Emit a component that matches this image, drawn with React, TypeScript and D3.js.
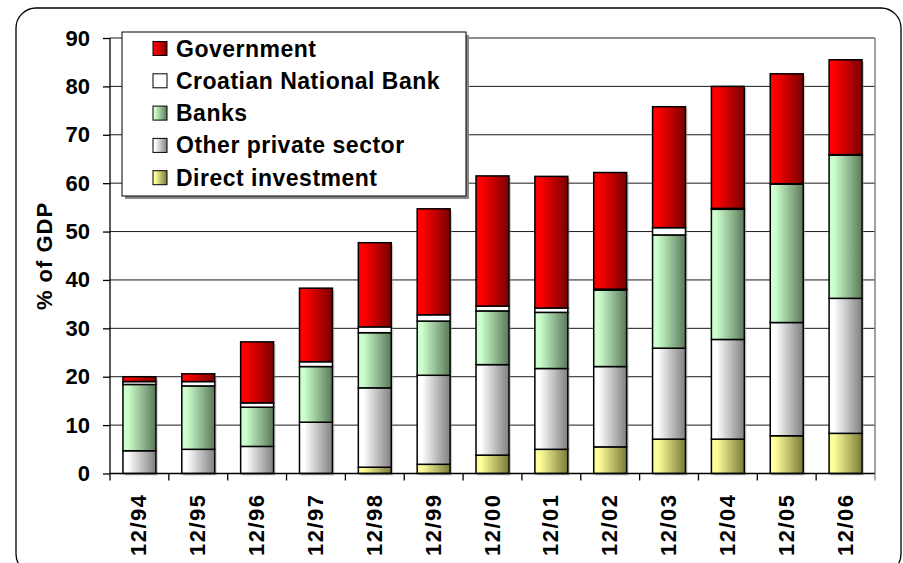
import { useEffect, useRef } from "react";
import * as d3 from "d3";

// % of GDP
const categories = ["12/94", "12/95", "12/96", "12/97", "12/98", "12/99", "12/00", "12/01", "12/02", "12/03", "12/04", "12/05", "12/06"];
const directInvestment = [0, 0, 0, 0, 1.3, 1.9, 3.8, 5.0, 5.5, 7.1, 7.1, 7.8, 8.3];
const otherPrivate = [4.7, 5.0, 5.6, 10.6, 16.4, 18.4, 18.7, 16.7, 16.6, 18.8, 20.6, 23.4, 27.9];
const banks = [13.7, 13.1, 8.1, 11.5, 11.4, 11.2, 11.1, 11.6, 15.8, 23.4, 26.9, 28.6, 29.6];
const cnb = [0.6, 0.9, 0.9, 1.0, 1.2, 1.3, 1.0, 0.9, 0.2, 1.5, 0.2, 0.1, 0.1];
const government = [1.0, 1.6, 12.6, 15.2, 17.4, 21.9, 26.9, 27.2, 24.1, 25.0, 25.2, 22.7, 19.6];
const yTicks = [0, 10, 20, 30, 40, 50, 60, 70, 80, 90];

const SERIES = [
  { key: "di", label: "Direct investment", values: directInvestment, from: "#ffff99", to: "#7a7a3a" },
  { key: "ops", label: "Other private sector", values: otherPrivate, from: "#ffffff", to: "#808080" },
  { key: "banks", label: "Banks", values: banks, from: "#ccffcc", to: "#5a785a" },
  { key: "cnb", label: "Croatian National Bank", values: cnb, from: "#ffffff", to: "#ffffff" },
  { key: "gov", label: "Government", values: government, from: "#ff0000", to: "#7a0000" },
];

const FONT = "'Liberation Sans', Arial, sans-serif";

export default function App() {
  const svgRef = useRef<SVGSVGElement>(null);

  useEffect(() => {
    const svg = d3.select(svgRef.current);
    svg.selectAll("*").remove();

    const margin = { top: 38, right: 28, bottom: 89.5, left: 110 };
    const width = 903;
    const height = 563;
    const innerW = width - margin.left - margin.right;
    const innerH = height - margin.top - margin.bottom;

    // gradients
    const defs = svg.append("defs");
    for (const s of SERIES) {
      const lg = defs.append("linearGradient").attr("id", `g-${s.key}`)
        .attr("x1", 0).attr("x2", 1).attr("y1", 0).attr("y2", 0);
      lg.append("stop").attr("offset", "0%").attr("stop-color", s.from);
      lg.append("stop").attr("offset", "15%").attr("stop-color", s.from);
      lg.append("stop").attr("offset", "100%").attr("stop-color", s.to);
    }

    // outer rounded frame
    svg.append("rect")
      .attr("x", 16).attr("y", 8).attr("width", 885).attr("height", 566)
      .attr("rx", 20).attr("fill", "#fff").attr("stroke", "#000").attr("stroke-width", 1.3);

    const x = d3.scaleBand().domain(categories).range([0, innerW]).paddingInner(0.44).paddingOuter(0.22);
    const y = d3.scaleLinear().domain([0, 90]).range([innerH, 0]);

    const g = svg.append("g").attr("transform", `translate(${margin.left},${margin.top})`);

    // gridlines
    g.append("g").selectAll("line").data(yTicks.slice(1)).join("line")
      .attr("x1", 0).attr("x2", innerW)
      .attr("y1", (d) => y(d)).attr("y2", (d) => y(d))
      .attr("stroke", "#1a1a1a").attr("stroke-width", 1);

    // plot area right border
    g.append("line").attr("x1", innerW).attr("x2", innerW).attr("y1", 0).attr("y2", innerH)
      .attr("stroke", "#808080").attr("stroke-width", 1.5);

    // stacked bars
    const rows = categories.map((c, i) => {
      const r: Record<string, number | string> = { cat: c };
      for (const s of SERIES) r[s.key] = s.values[i];
      return r;
    });
    const stack = d3.stack<Record<string, number | string>>().keys(SERIES.map((s) => s.key))(rows as any);
    const totals = categories.map((_, i) => d3.sum(SERIES, (s) => s.values[i]));

    // soft shadow behind each column
    g.append("g").selectAll("rect").data(categories).join("rect")
      .attr("x", (d) => (x(d) ?? 0) + 2)
      .attr("y", (_, i) => y(totals[i]) + 2)
      .attr("width", x.bandwidth())
      .attr("height", (_, i) => innerH - y(totals[i]))
      .attr("fill", "#9a9a9a").attr("opacity", 0.45);

    stack.forEach((layer, li) => {
      const s = SERIES[li];
      g.append("g").selectAll("rect").data(layer).join("rect")
        .attr("x", (d) => x(d.data.cat as string) ?? 0)
        .attr("y", (d) => y(d[1]))
        .attr("width", x.bandwidth())
        .attr("height", (d) => Math.max(0, y(d[0]) - y(d[1])))
        .attr("fill", `url(#g-${s.key})`)
        .attr("stroke", "#000").attr("stroke-width", 1.5)
        .attr("display", (d) => (d[1] - d[0] > 0 ? null : "none"));
    });

    // y axis
    g.append("g")
      .call(d3.axisLeft(y).tickValues(yTicks).tickSize(7).tickPadding(13).tickFormat(d3.format("d")))
      .call((sel) => {
        sel.select(".domain").attr("stroke", "#000").attr("stroke-width", 1.3).attr("d", `M0,${innerH}V0`);
        sel.selectAll(".tick line").attr("stroke", "#000").attr("stroke-width", 1.3);
        sel.selectAll(".tick text").attr("fill", "#000").attr("font-size", "22px")
          .attr("font-weight", "bold").attr("font-family", FONT);
      });

    // x axis with ticks between categories
    const xa = g.append("g").attr("transform", `translate(0,${innerH})`);
    xa.append("line").attr("x1", 0).attr("x2", innerW).attr("stroke", "#000").attr("stroke-width", 1.3);
    const step = x.step();
    xa.selectAll("line.tk").data(d3.range(categories.length + 1)).join("line")
      .attr("class", "tk")
      .attr("x1", (i) => i * step).attr("x2", (i) => i * step)
      .attr("y1", 0).attr("y2", 7)
      .attr("stroke", (i) => (i === categories.length ? "#808080" : "#000")).attr("stroke-width", 1.3);
    xa.selectAll("text").data(categories).join("text")
      .attr("transform", (d) => `translate(${(x(d) ?? 0) + x.bandwidth() / 2 + 7},20) rotate(-90)`)
      .attr("text-anchor", "end")
      .attr("font-size", "22px").attr("font-weight", "bold").attr("font-family", FONT)
      .attr("letter-spacing", "1.5px")
      .text((d) => d);

    // y axis title
    svg.append("text")
      .attr("transform", "translate(52,256) rotate(-90)")
      .attr("text-anchor", "middle")
      .attr("font-size", "22px").attr("font-weight", "bold").attr("font-family", FONT)
      .attr("letter-spacing", "1px")
      .text("% of GDP");

    // legend
    const lg = svg.append("g").attr("transform", "translate(122,32)");
    lg.append("rect").attr("x", 3).attr("y", 3).attr("width", 344).attr("height", 164).attr("fill", "#888");
    lg.append("rect").attr("width", 344).attr("height", 164).attr("fill", "#fff")
      .attr("stroke", "#000").attr("stroke-width", 1);
    const legendItems = [...SERIES].reverse();
    legendItems.forEach((s, i) => {
      const cy = 16.5 + i * 32.3;
      lg.append("rect").attr("x", 31).attr("y", cy - 7).attr("width", 14).attr("height", 14)
        .attr("fill", `url(#g-${s.key})`).attr("stroke", "#000").attr("stroke-width", 1);
      lg.append("text").attr("x", 54).attr("y", cy + 8)
        .attr("font-size", "23px").attr("font-weight", "bold").attr("font-family", FONT)
        .attr("letter-spacing", "0.5px")
        .text(s.label);
    });
  }, []);

  return (
    <svg ref={svgRef} width={903} height={563}
      style={{ position: "absolute", left: 0, top: 0, background: "#fff" }} />
  );
}
